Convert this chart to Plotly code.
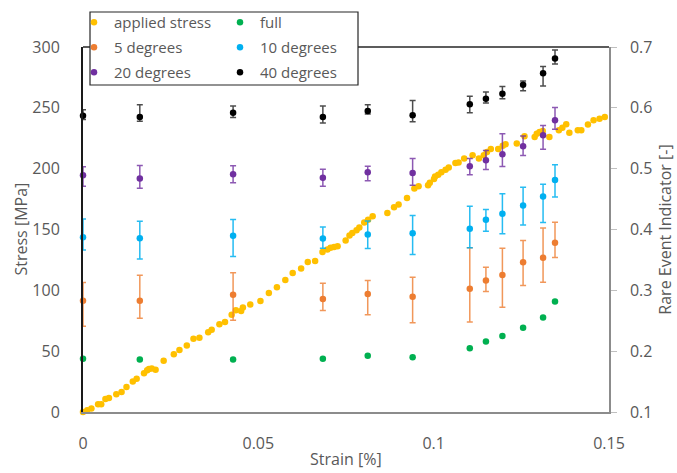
import plotly.graph_objects as go

# ---------------- data ----------------
applied_strain = [0, 0.0012, 0.0024, 0.0043, 0.0052, 0.0064, 0.0074, 0.0095, 0.011, 0.0124,
                  0.0142, 0.0153, 0.0174, 0.0183, 0.0188, 0.0196, 0.0207, 0.023, 0.0259, 0.0275,
                  0.0296, 0.0315, 0.0332, 0.0357, 0.0367, 0.0389, 0.0405, 0.0424, 0.0436, 0.0451,
                  0.0456, 0.0477, 0.0506, 0.053, 0.0553, 0.0577, 0.0598, 0.0622, 0.0641, 0.0662,
                  0.0683, 0.0697, 0.0706, 0.0716, 0.0726, 0.0749, 0.076, 0.0768, 0.078, 0.0788,
                  0.0802, 0.0813, 0.0826, 0.0868, 0.0887, 0.09, 0.0924, 0.0945, 0.0957, 0.0984,
                  0.0989, 0.1001, 0.1004, 0.1013, 0.1022, 0.1034, 0.1043, 0.1062, 0.1071, 0.1087,
                  0.1111, 0.1129, 0.1143, 0.1152, 0.1163, 0.1184, 0.1197, 0.1205, 0.1237, 0.1259,
                  0.1288, 0.1294, 0.1302, 0.1311, 0.1330, 0.1357, 0.1367, 0.1378, 0.1387, 0.1411,
                  0.1421, 0.144, 0.1456, 0.1473, 0.1488]
applied_stress = [0, 1.4, 2.8, 6.3, 6.3, 10.7, 11.5, 14.5, 16.4, 20.5,
                  25, 27.4, 31.8, 34.3, 35.3, 35.7, 34.8, 42.2, 47.4, 51,
                  54.6, 60.3, 61.1, 65.5, 67.7, 72.1, 74, 80, 83.6, 83,
                  85.8, 88.3, 91.2, 97.8, 102.5, 108.5, 114.2, 117.9, 123.3, 124.1,
                  131.5, 133.5, 135.1, 135.6, 136.2, 140.9, 145, 147.1, 149.3, 151.6,
                  155.7, 158.1, 160.8, 163.6, 168.2, 170.5, 175.9, 183.6, 185.5, 186.3,
                  188.5, 191.5, 193.6, 195, 197.1, 199.1, 201, 204.6, 205, 208.3,
                  211, 208.3, 211, 213.7, 216.1, 216.1, 218.9, 220, 220.6, 226.6,
                  226, 228.8, 230.1, 231, 226, 231.5, 233.7, 236.5, 229.6, 231.5,
                  231.5, 236.2, 239.8, 241.1, 242.5]

re_strain = [0, 0.0162, 0.0428, 0.0684, 0.0812, 0.094, 0.1103, 0.1149, 0.1196, 0.1255, 0.1312, 0.1346]

full = [0.1874, 0.1862, 0.1862, 0.1874, 0.1923, 0.1902, 0.2050, 0.2159, 0.2248, 0.2385, 0.2555, 0.2818]

deg5 = [0.283, 0.283, 0.2929, 0.2858, 0.294, 0.2896, 0.3028, 0.316, 0.3253, 0.3461, 0.3534, 0.3781]
deg5_plus = [0.030, 0.042, 0.036, 0.026, 0.022, 0.032, 0.067, 0.022, 0.044, 0.036, 0.049, 0.034]
deg5_minus = [0.042, 0.029, 0.042, 0.019, 0.034, 0.043, 0.055, 0.018, 0.053, 0.038, 0.040, 0.024]

deg10 = [0.3873, 0.3857, 0.3896, 0.3852, 0.3918, 0.3939, 0.4012, 0.416, 0.4259, 0.4396, 0.4544, 0.4813]
deg10_plus = [0.030, 0.028, 0.027, 0.019, 0.022, 0.029, 0.037, 0.017, 0.033, 0.030, 0.020, 0.025]
deg10_minus = [0.021, 0.034, 0.034, 0.016, 0.023, 0.035, 0.031, 0.019, 0.033, 0.032, 0.043, 0.028]

deg20 = [0.489, 0.484, 0.4907, 0.4852, 0.494, 0.4928, 0.5039, 0.5137, 0.5236, 0.5368, 0.555, 0.5797]
deg20_plus = [0.014, 0.021, 0.014, 0.014, 0.010, 0.024, 0.013, 0.016, 0.034, 0.017, 0.016, 0.021]
deg20_minus = [0.018, 0.016, 0.014, 0.014, 0.014, 0.020, 0.014, 0.015, 0.020, 0.015, 0.023, 0.015]

deg40 = [0.587, 0.585, 0.592, 0.585, 0.595, 0.588, 0.606, 0.615, 0.623, 0.638, 0.657, 0.681]
deg40_plus = [0.010, 0.020, 0.011, 0.018, 0.010, 0.024, 0.013, 0.011, 0.012, 0.006, 0.011, 0.014]
deg40_minus = [0.006, 0.007, 0.008, 0.010, 0.005, 0.011, 0.014, 0.007, 0.008, 0.010, 0.021, 0.009]

x_tickvals = [0, 0.05, 0.1, 0.15]
x_ticktext = ["0", "0.05", "0.1", "0.15"]

# ---------------- figure ----------------
FONT = "Open Sans"
TXT = "#595959"
W, H = 677, 473
ML, MR, MT, MB = 83, 68, 47, 61
PW, PH = W - ML - MR, H - MT - MB


def px_x(px):
    return (px - ML) / PW


def px_y(py):
    return (H - MB - py) / PH


fig = go.Figure()

fig.add_trace(go.Scatter(
    x=applied_strain, y=applied_stress, mode="markers", name="applied stress",
    marker=dict(color="#FFC000", size=6.5), cliponaxis=False, legend="legend",
    legendgroup="a"))


def re_trace(name, y, plus, minus, color, ecolor, legend, grp):
    ey = None
    if plus is not None:
        ey = dict(type="data", symmetric=False, array=plus, arrayminus=minus,
                  color=ecolor, thickness=1.5, width=3)
    return go.Scatter(x=re_strain, y=y, mode="markers", name=name, yaxis="y2",
                      marker=dict(color=color, size=6.5), error_y=ey,
                      cliponaxis=False, legend=legend, legendgroup=grp)


fig.add_trace(re_trace("full", full, None, None, "#00B050", None, "legend2", "b"))
fig.add_trace(re_trace("5 degrees", deg5, deg5_plus, deg5_minus, "#ED7D31",
                       "rgba(237,125,49,0.8)", "legend", "c"))
fig.add_trace(re_trace("10 degrees", deg10, deg10_plus, deg10_minus, "#00B0F0",
                       "rgba(0,176,240,0.85)", "legend2", "d"))
fig.add_trace(re_trace("20 degrees", deg20, deg20_plus, deg20_minus, "#7030A0",
                       "rgba(112,48,160,0.8)", "legend", "e"))
fig.add_trace(re_trace("40 degrees", deg40, deg40_plus, deg40_minus, "#000000",
                       "rgba(0,0,0,0.7)", "legend2", "f"))

legend_common = dict(
    bgcolor="rgba(0,0,0,0)", borderwidth=0, orientation="v",
    font=dict(family=FONT, size=15, color=TXT), itemwidth=30,
    yanchor="top", xanchor="left", tracegroupgap=2.5, traceorder="grouped")

fig.update_layout(
    width=W, height=H,
    margin=dict(l=ML, r=MR, t=MT, b=MB, autoexpand=False),
    paper_bgcolor="white", plot_bgcolor="white",
    font=dict(family=FONT, size=15, color=TXT),
    legend=dict(x=px_x(74), y=px_y(6), **legend_common),
    legend2=dict(x=px_x(220), y=px_y(6), **legend_common),
    xaxis=dict(range=[0, 0.15], tickvals=x_tickvals, ticktext=x_ticktext,
               showgrid=False, zeroline=False, showline=True,
               linecolor="#8c8c8c", linewidth=1.5, ticks="",
               ticklabelstandoff=16, tickfont=dict(size=16, color=TXT)),
    yaxis=dict(range=[0, 300], dtick=50, showgrid=False, zeroline=False,
               showline=True, linecolor="#1a1a1a", linewidth=2, ticks="",
               ticklabelstandoff=18, tickfont=dict(size=16, color=TXT)),
    yaxis2=dict(range=[0.1, 0.7], dtick=0.1, overlaying="y", side="right",
                showgrid=False, zeroline=False, showline=True,
                linecolor="#8c8c8c", linewidth=1.5, ticks="outside", ticklen=6,
                tickcolor="#bfbfbf", tickformat=".1f", automargin=True,
                ticklabelstandoff=10, tickfont=dict(size=16, color=TXT),
                title=dict(text="Rare Event Indicator [-]", font=dict(size=16, color=TXT),
                           standoff=8)),
    annotations=[
        dict(text="Stress [MPa]", xref="paper", yref="paper", x=px_x(20), y=0.5,
             textangle=-90, showarrow=False, xanchor="center", yanchor="middle",
             font=dict(family=FONT, size=16, color=TXT)),
        dict(text="Strain [%]", xref="paper", yref="paper", x=0.5, y=px_y(472),
             showarrow=False, xanchor="center", yanchor="bottom",
             font=dict(family=FONT, size=16, color=TXT)),
    ],
    shapes=[
        dict(type="line", xref="paper", yref="paper", x0=0, x1=1, y0=1, y1=1,
             line=dict(color="#262626", width=1.5), layer="above"),
        dict(type="rect", xref="paper", yref="paper",
             x0=px_x(90), x1=px_x(358), y0=px_y(85), y1=px_y(12),
             line=dict(color="#262626", width=1.2), fillcolor="white", layer="above"),
    ],
)

fig.write_html("out.html")
